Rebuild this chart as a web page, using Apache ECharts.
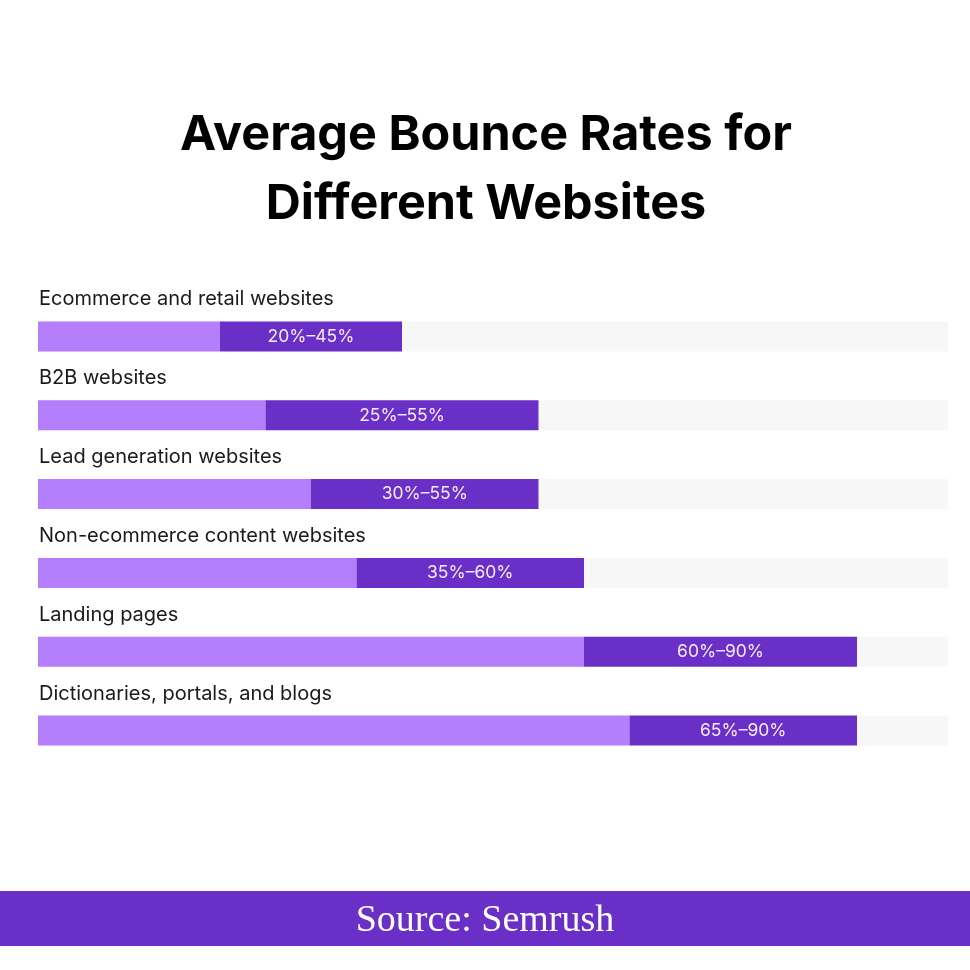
<!DOCTYPE html>
<html>
<head>
<meta charset="utf-8" />
<title>Average Bounce Rates for Different Websites</title>
<script type="text/javascript" src="https://cdn.jsdelivr.net/npm/echarts@6/dist/echarts.min.js"></script>
<style>
	html, body { margin: 0; padding: 0; background: #fff; }
</style>
</head>
<body>
	<div id="chartmain" style="width: 970px; height: 970px;"></div>
	<script type="text/javascript">
		// categories and values
		var categories = [
			'Ecommerce and retail websites',
			'B2B websites',
			'Lead generation websites',
			'Non-ecommerce content websites',
			'Landing pages',
			'Dictionaries, portals, and blogs'
		];
		var rangeStart = [20, 25, 30, 35, 60, 65];
		var rangeEnd = [40, 55, 55, 60, 90, 90];
		var rangeLabels = ['20%–45%', '25%–55%', '30%–55%', '35%–60%', '60%–90%', '65%–90%'];
		var trackMax = [100, 100, 100, 100, 100, 100];

		var lightPurple = '#b57efc';
		var darkPurple = '#6a2fc7';

		var rangeWidth = rangeEnd.map(function (v, i) { return v - rangeStart[i]; });

		var option = {
			animation: false,
			grid: {
				left: 38,
				right: 22,
				top: 297,
				height: 473
			},
			xAxis: {
				type: 'value',
				min: 0,
				max: 100,
				show: false
			},
			yAxis: {
				type: 'category',
				data: categories,
				inverse: true,
				show: false
			},
			series: [{
				name: 'track',
				type: 'bar',
				data: trackMax,
				barWidth: 30,
				barGap: '-100%',
				itemStyle: { color: '#f7f7f7' },
				label: {
					show: true,
					position: [1, -22],
					align: 'left',
					verticalAlign: 'middle',
					fontFamily: 'Inter',
					fontSize: 20,
					color: '#1a1a1a',
					formatter: function (p) { return categories[p.dataIndex]; }
				},
				silent: true
			}, {
				name: 'start',
				type: 'bar',
				stack: 'range',
				data: rangeStart,
				barWidth: 30,
				itemStyle: { color: lightPurple }
			}, {
				name: 'range',
				type: 'bar',
				stack: 'range',
				data: rangeWidth,
				barWidth: 30,
				itemStyle: { color: darkPurple },
				label: {
					show: true,
					position: 'inside',
					fontFamily: 'Inter',
					fontSize: 17.5,
					color: '#f3eaff',
					formatter: function (p) { return rangeLabels[p.dataIndex]; }
				}
			}],
			graphic: [{
				type: 'text',
				x: 486,
				y: 101,
				style: {
					text: 'Average Bounce Rates for\nDifferent Websites',
					align: 'center',
					fontFamily: 'Inter',
					fontWeight: 700,
					fontSize: 48.5,
					lineHeight: 69,
					fill: '#000'
				}
			}, {
				type: 'rect',
				left: 0,
				top: 891,
				shape: { width: 970, height: 55 },
				style: { fill: darkPurple }
			}, {
				type: 'text',
				left: 'center',
				top: 902,
				style: {
					text: 'Source: Semrush',
					fontFamily: 'Liberation Serif',
					fontSize: 38,
					fill: '#fff'
				}
			}]
		};

		var myChart = echarts.init(document.getElementById('chartmain'));
		myChart.setOption(option);
	</script>
</body>
</html>
